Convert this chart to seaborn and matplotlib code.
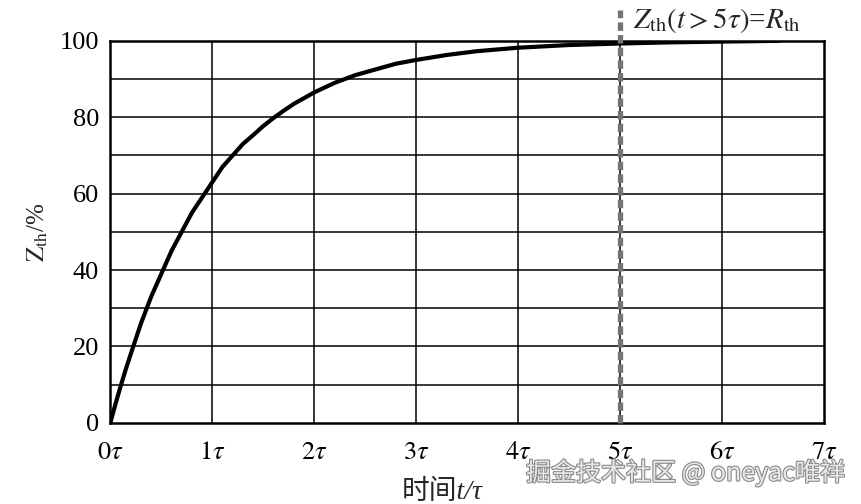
import matplotlib
matplotlib.use("Agg")
import matplotlib.pyplot as plt
import matplotlib.patheffects as pe
import seaborn as sns
import pandas as pd

# values (t in units of tau, Z_th in %)
t_tau = [0, 0.05, 0.1, 0.15, 0.2, 0.25, 0.3, 0.4, 0.5, 0.6, 0.7, 0.8, 0.9,
         1.0, 1.1, 1.2, 1.3, 1.4, 1.5, 1.6, 1.7, 1.8, 1.9, 2.0, 2.2, 2.4,
         2.6, 2.8, 3.0, 3.3, 3.6, 4.0, 4.5, 5.0, 5.5, 6.0, 6.56]
z_th = [0, 4.9, 9.5, 13.9, 18, 22, 26, 33, 39, 45, 50, 55, 59,
        63, 67, 70, 73, 75.3, 77.7, 79.8, 81.7, 83.5, 85, 86.5, 89, 91,
        92.5, 94, 95, 96.3, 97.3, 98.2, 98.9, 99.3, 99.6, 99.8, 100]
x_ticks = [0, 1, 2, 3, 4, 5, 6, 7]
x_labels = [r"$0\tau$", r"$1\tau$", r"$2\tau$", r"$3\tau$", r"$4\tau$",
            r"$5\tau$", r"$6\tau$", r"$7\tau$"]
y_ticks = [0, 20, 40, 60, 80, 100]
y_grid = [10, 20, 30, 40, 50, 60, 70, 80, 90]
steady_t = 5

sns.set_style("white")
plt.rcParams["font.family"] = ["Liberation Serif", "Noto Sans CJK SC"]
plt.rcParams["mathtext.fontset"] = "stix"

df = pd.DataFrame({"t": t_tau, "z": z_th})

fig = plt.figure(figsize=(8.62, 5.04), dpi=100)
ax = fig.add_axes([0.128, 0.161, 0.828, 0.758])

# grid
for x in x_ticks[1:-1]:
    ax.axvline(x, color="black", lw=1.1, zorder=1)
for y in y_grid:
    ax.axhline(y, color="black", lw=1.1, zorder=1)

sns.lineplot(data=df, x="t", y="z", ax=ax, color="black", lw=3, zorder=3)

ax.axvline(steady_t, ymin=0, ymax=1.08, color="#747474", lw=3.8,
           ls=(0, (1.6, 0.8)), clip_on=False, zorder=4)

ax.set_xlim(0, 7)
ax.set_ylim(0, 100)
ax.set_xticks(x_ticks)
ax.set_xticklabels(x_labels)
ax.set_yticks(y_ticks)
ax.tick_params(axis="both", length=0, labelsize=19, colors="black")
ax.tick_params(axis="x", pad=14)
ax.tick_params(axis="y", pad=8)
for s in ax.spines.values():
    s.set_color("black")
    s.set_linewidth(1.8)

ax.set_xlabel("时间t/τ", fontsize=20, style="italic")
ax.xaxis.set_label_coords(0.465, -0.15)
ax.set_ylabel(r"$\mathrm{Z}_{\mathrm{th}}$/%", fontsize=18)
ax.yaxis.set_label_coords(-0.085, 0.5)

ax.text(5.13, 101.5, r"$Z_{\mathrm{th}}(t>5\tau)$=$R_{\mathrm{th}}$",
        fontsize=21, ha="left", va="bottom")

fig.text(0.98, 0.062, "掘金技术社区 @ oneyac唯祥", ha="right", va="center",
         fontsize=18, color="#e8e8e8", family=["Noto Sans CJK SC", "DejaVu Sans"],
         path_effects=[pe.withStroke(linewidth=1.6, foreground="#8a8a8a")])

fig.savefig("out.png", dpi=100)
